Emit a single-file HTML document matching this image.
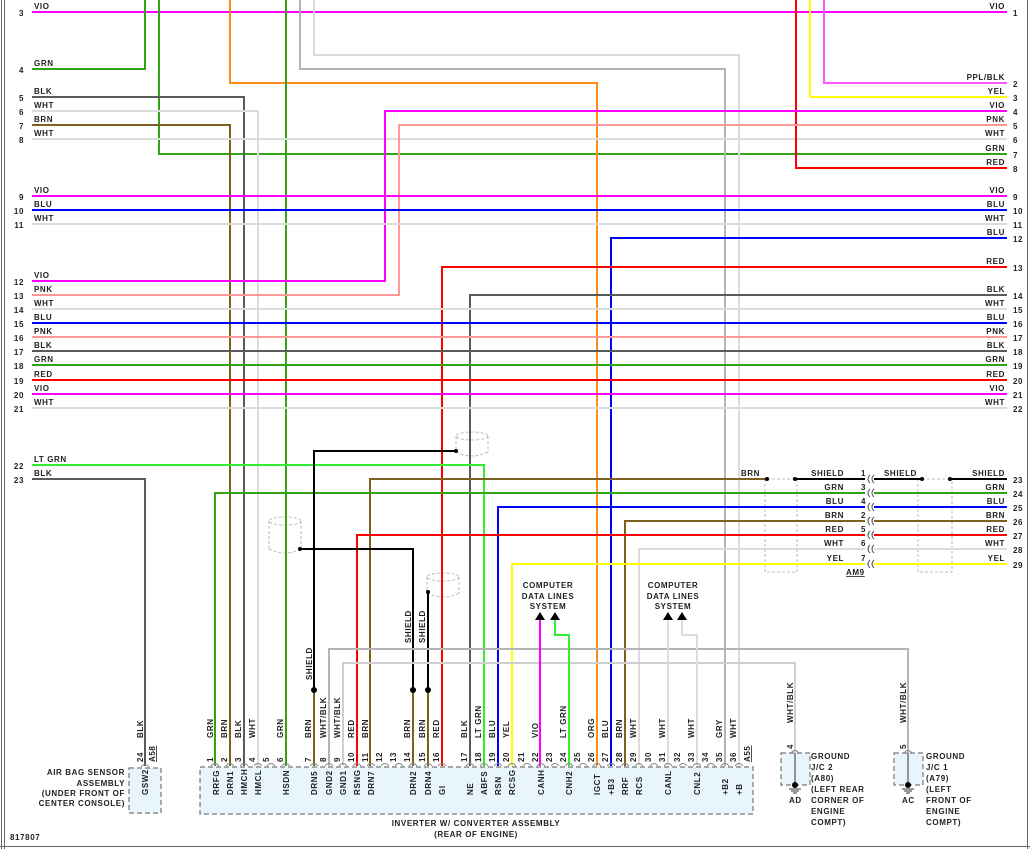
<!DOCTYPE html>
<html><head><meta charset="utf-8"><style>
html,body{margin:0;padding:0;background:#fff;}
svg{display:block;}
text{font-family:"Liberation Sans",sans-serif;font-size:8px;font-weight:bold;fill:#222;letter-spacing:0.6px;}
.w{fill:none;stroke-width:2;}
</style></head><body>
<svg width="1030" height="849" viewBox="0 0 1030 849" xmlns="http://www.w3.org/2000/svg">
<rect width="1030" height="849" fill="#fff"/>
<path d="M1.5 0V849M4.5 0V849M1027.5 0V849M0 846.5H1030" stroke="#666" stroke-width="1" fill="none"/>

<g fill="none" stroke="#bbb" stroke-width="1" stroke-dasharray="3,2">
<ellipse cx="472" cy="436" rx="16" ry="4"/><path d="M456 436V452M488 436V452M456 452Q472 460 488 452"/>
<ellipse cx="285" cy="521" rx="16" ry="4"/><path d="M269 521V549M301 521V549M269 549Q285 557 301 549"/>
<ellipse cx="443" cy="577" rx="16" ry="4"/><path d="M427 577V593M459 577V593M427 593Q443 601 459 593"/>
<path d="M765 479V572H797V479M918 479V572H952V479"/>
<path d="M767 479H795M922 479H950"/>
</g>

<g class="w">
<path stroke="#ff00ff" d="M32 12H1007"/>
<path stroke="#33a314" d="M32 69H145V0"/>
<path stroke="#33a314" d="M159 0V154H1007"/>
<path stroke="#ff8c1a" d="M230 0V83H597V766"/>
<path stroke="#b4b4b4" d="M300 0V69H725V766"/>
<path stroke="#dcdcdc" d="M314 0V55H739V766"/>
<path stroke="#33a314" d="M286 0V766"/>
<path stroke="#5a5a5a" d="M32 97H244V766"/>
<path stroke="#dcdcdc" d="M32 111H258V766"/>
<path stroke="#806020" d="M32 125H230V766"/>
<path stroke="#dcdcdc" d="M32 139H1007"/>
<path stroke="#ff0000" d="M796 0V168H1007"/>
<path stroke="#ffff00" d="M810 0V97H1007"/>
<path stroke="#ff55ff" d="M824 0V83H1007"/>
<path stroke="#ff00ff" d="M1007 111H385V281H32"/>
<path stroke="#ff9999" d="M1007 125H399V295H32"/>
<path stroke="#ff00ff" d="M32 196H1007"/>
<path stroke="#0000ff" d="M32 210H1007"/>
<path stroke="#dcdcdc" d="M32 224H1007"/>
<path stroke="#0000ff" d="M1007 238H611V766"/>
<path stroke="#ff0000" d="M1007 267H442V766"/>
<path stroke="#5a5a5a" d="M1007 295H470V766"/>
<path stroke="#dcdcdc" d="M32 309H1007"/>
<path stroke="#0000ff" d="M32 323H1007"/>
<path stroke="#ff9999" d="M32 337H1007"/>
<path stroke="#5a5a5a" d="M32 351H1007"/>
<path stroke="#33a314" d="M32 365H1007"/>
<path stroke="#ff0000" d="M32 380H1007"/>
<path stroke="#ff00ff" d="M32 394H1007"/>
<path stroke="#dcdcdc" d="M32 408H1007"/>
<path stroke="#33ee33" d="M32 465H484V766"/>
<path stroke="#5a5a5a" d="M32 479H145V766"/>
<path stroke="#806020" d="M767 479H370V766"/>
<path stroke="#33a314" d="M1007 493H215V766"/>
<path stroke="#0000ff" d="M1007 507H498V766"/>
<path stroke="#806020" d="M1007 521H625V766"/>
<path stroke="#ff0000" d="M1007 535H357V766"/>
<path stroke="#dcdcdc" d="M1007 549H639V766"/>
<path stroke="#ffff00" d="M1007 564H512V766"/>
<path stroke="#000" d="M314 690V451H456M300 549H413V690M428 592V690M795 479H866M872 479H922M950 479H1007"/>
<path stroke="#806020" d="M314 690V766M413 690V766M428 690V766"/>
<path stroke="#b4b4b4" d="M329 766V649H908V753"/>
<path stroke="#cfcfcf" d="M343 766V663H795V753"/>
<path stroke="#ff00ff" d="M540 766V620"/>
<path stroke="#33ee33" d="M569 766V635H555V620"/>
<path stroke="#dcdcdc" d="M668 766V620"/>
<path stroke="#dcdcdc" d="M697 766V635H682V620"/>
</g>
<g fill="#000">
<circle cx="314" cy="690" r="3"/><circle cx="413" cy="690" r="3"/><circle cx="428" cy="690" r="3"/>
<circle cx="456" cy="451" r="2"/><circle cx="300" cy="549" r="2"/><circle cx="428" cy="592" r="2"/>
<circle cx="767" cy="479" r="2"/><circle cx="795" cy="479" r="2"/><circle cx="922" cy="479" r="2"/><circle cx="950" cy="479" r="2"/>
<path d="M535 620L540 612L545 620ZM550 620L555 612L560 620ZM663 620L668 612L673 620ZM677 620L682 612L687 620Z"/>
</g>

<g fill="#fff" stroke="none">
<rect x="865" y="475" width="9" height="93"/>
</g>
<g fill="none" stroke="#555" stroke-width="1">
<path d="M870 475q-4 4 0 8M874 475q-4 4 0 8M870 489q-4 4 0 8M874 489q-4 4 0 8M870 503q-4 4 0 8M874 503q-4 4 0 8M870 517q-4 4 0 8M874 517q-4 4 0 8M870 531q-4 4 0 8M874 531q-4 4 0 8M870 545q-4 4 0 8M874 545q-4 4 0 8M870 560q-4 4 0 8M874 560q-4 4 0 8"/>
</g>

<g>
<text x="34" y="9">VIO</text>
<text x="34" y="66">GRN</text>
<text x="34" y="94">BLK</text>
<text x="34" y="108">WHT</text>
<text x="34" y="122">BRN</text>
<text x="34" y="136">WHT</text>
<text x="34" y="193">VIO</text>
<text x="34" y="207">BLU</text>
<text x="34" y="221">WHT</text>
<text x="34" y="278">VIO</text>
<text x="34" y="292">PNK</text>
<text x="34" y="306">WHT</text>
<text x="34" y="320">BLU</text>
<text x="34" y="334">PNK</text>
<text x="34" y="348">BLK</text>
<text x="34" y="362">GRN</text>
<text x="34" y="377">RED</text>
<text x="34" y="391">VIO</text>
<text x="34" y="405">WHT</text>
<text x="34" y="462">LT GRN</text>
<text x="34" y="476">BLK</text>
</g>
<g text-anchor="end">
<text x="24" y="16">3</text><text x="24" y="73">4</text><text x="24" y="101">5</text><text x="24" y="115">6</text><text x="24" y="129">7</text><text x="24" y="143">8</text>
<text x="24" y="200">9</text><text x="24" y="214">10</text><text x="24" y="228">11</text><text x="24" y="285">12</text><text x="24" y="299">13</text><text x="24" y="313">14</text>
<text x="24" y="327">15</text><text x="24" y="341">16</text><text x="24" y="355">17</text><text x="24" y="369">18</text><text x="24" y="384">19</text><text x="24" y="398">20</text>
<text x="24" y="412">21</text><text x="24" y="469">22</text><text x="24" y="483">23</text>
</g>
<g text-anchor="end">
<text x="1005" y="9">VIO</text>
<text x="1005" y="80">PPL/BLK</text>
<text x="1005" y="94">YEL</text>
<text x="1005" y="108">VIO</text>
<text x="1005" y="122">PNK</text>
<text x="1005" y="136">WHT</text>
<text x="1005" y="151">GRN</text>
<text x="1005" y="165">RED</text>
<text x="1005" y="193">VIO</text>
<text x="1005" y="207">BLU</text>
<text x="1005" y="221">WHT</text>
<text x="1005" y="235">BLU</text>
<text x="1005" y="264">RED</text>
<text x="1005" y="292">BLK</text>
<text x="1005" y="306">WHT</text>
<text x="1005" y="320">BLU</text>
<text x="1005" y="334">PNK</text>
<text x="1005" y="348">BLK</text>
<text x="1005" y="362">GRN</text>
<text x="1005" y="377">RED</text>
<text x="1005" y="391">VIO</text>
<text x="1005" y="405">WHT</text>
<text x="1005" y="476">SHIELD</text>
<text x="1005" y="490">GRN</text>
<text x="1005" y="504">BLU</text>
<text x="1005" y="518">BRN</text>
<text x="1005" y="532">RED</text>
<text x="1005" y="546">WHT</text>
<text x="1005" y="561">YEL</text>
<text x="844" y="476">SHIELD</text>
<text x="844" y="490">GRN</text>
<text x="844" y="504">BLU</text>
<text x="844" y="518">BRN</text>
<text x="844" y="532">RED</text>
<text x="844" y="546">WHT</text>
<text x="844" y="561">YEL</text>
<text x="760" y="476">BRN</text>
<text x="866" y="476">1</text><text x="866" y="490">3</text><text x="866" y="504">4</text><text x="866" y="518">2</text><text x="866" y="532">5</text><text x="866" y="546">6</text><text x="866" y="561">7</text>
</g>
<text x="884" y="476">SHIELD</text>
<text x="846" y="575" style="text-decoration:underline">AM9</text>
<g>
<text x="1013" y="16">1</text><text x="1013" y="87">2</text><text x="1013" y="101">3</text><text x="1013" y="115">4</text><text x="1013" y="129">5</text><text x="1013" y="143">6</text>
<text x="1013" y="158">7</text><text x="1013" y="172">8</text><text x="1013" y="200">9</text><text x="1013" y="214">10</text><text x="1013" y="228">11</text><text x="1013" y="242">12</text>
<text x="1013" y="271">13</text><text x="1013" y="299">14</text><text x="1013" y="313">15</text><text x="1013" y="327">16</text><text x="1013" y="341">17</text><text x="1013" y="355">18</text>
<text x="1013" y="369">19</text><text x="1013" y="384">20</text><text x="1013" y="398">21</text><text x="1013" y="412">22</text>
<text x="1013" y="483">23</text><text x="1013" y="497">24</text><text x="1013" y="511">25</text><text x="1013" y="525">26</text><text x="1013" y="539">27</text><text x="1013" y="553">28</text><text x="1013" y="568">29</text>
</g>

<g text-anchor="middle" style="font-weight:normal">
<text x="548" y="588">COMPUTER</text><text x="548" y="599">DATA LINES</text><text x="548" y="609">SYSTEM</text>
<text x="673" y="588">COMPUTER</text><text x="673" y="599">DATA LINES</text><text x="673" y="609">SYSTEM</text>
</g>
<g style="font-weight:normal">
<text transform="translate(312,680) rotate(-90)">SHIELD</text>
<text transform="translate(411,643) rotate(-90)">SHIELD</text>
<text transform="translate(425,643) rotate(-90)">SHIELD</text>
</g>

<g fill="#e8f5fc" stroke="#777" stroke-width="1.2" stroke-dasharray="5,3">
<rect x="200" y="767" width="553" height="47"/>
<rect x="129" y="768" width="32" height="45"/>
<rect x="781" y="753" width="29" height="32"/>
<rect x="894" y="753" width="29" height="32"/>
</g>
<g stroke="#333" stroke-width="1" fill="none">
<path d="M795 753V785M908 753V785M789 789H801M791 791H799M793 793H797M902 789H914M904 791H912M906 793H910"/>
</g>
<circle cx="795" cy="785" r="3"/><circle cx="908" cy="785" r="3"/>
<text x="789" y="803">AD</text><text x="902" y="803">AC</text>
<g>
<text x="811" y="759">GROUND</text><text x="811" y="770">J/C 2</text><text x="811" y="781">(A80)</text><text x="811" y="792">(LEFT REAR</text><text x="811" y="803">CORNER OF</text><text x="811" y="814">ENGINE</text><text x="811" y="825">COMPT)</text>
<text x="926" y="759">GROUND</text><text x="926" y="770">J/C 1</text><text x="926" y="781">(A79)</text><text x="926" y="792">(LEFT</text><text x="926" y="803">FRONT OF</text><text x="926" y="814">ENGINE</text><text x="926" y="825">COMPT)</text>
</g>
<g text-anchor="end">
<text x="125" y="775">AIR BAG SENSOR</text><text x="125" y="786">ASSEMBLY</text><text x="125" y="796">(UNDER FRONT OF</text><text x="125" y="806">CENTER CONSOLE)</text>
</g>
<g text-anchor="middle">
<text x="476" y="826">INVERTER W/ CONVERTER ASSEMBLY</text>
<text x="476" y="837">(REAR OF ENGINE)</text>
</g>
<text x="10" y="840">817807</text>

<g fill="none" stroke="#888" stroke-width="1">
<path d="M141 767q4-5 8 0M791 753q4-5 8 0M904 753q4-5 8 0"/>
<path d="M211 766q4-5 8 0M226 766q4-5 8 0M240 766q4-5 8 0M254 766q4-5 8 0M267 766q4-5 8 0M282 766q4-5 8 0M310 766q4-5 8 0M325 766q4-5 8 0M339 766q4-5 8 0M353 766q4-5 8 0M367 766q4-5 8 0M381 766q4-5 8 0M395 766q4-5 8 0M409 766q4-5 8 0M424 766q4-5 8 0M438 766q4-5 8 0M466 766q4-5 8 0M480 766q4-5 8 0M494 766q4-5 8 0M508 766q4-5 8 0M523 766q4-5 8 0M537 766q4-5 8 0M551 766q4-5 8 0M565 766q4-5 8 0M579 766q4-5 8 0M593 766q4-5 8 0M607 766q4-5 8 0M621 766q4-5 8 0M635 766q4-5 8 0M650 766q4-5 8 0M664 766q4-5 8 0M679 766q4-5 8 0M693 766q4-5 8 0M707 766q4-5 8 0M721 766q4-5 8 0M735 766q4-5 8 0"/>
</g>

<g style="font-weight:normal">
<text transform="translate(143,738) rotate(-90)">BLK</text>
<text transform="translate(143,762) rotate(-90)">24</text>
<text transform="translate(155,762) rotate(-90)" style="text-decoration:underline">A58</text>
<text transform="translate(148,795) rotate(-90)">GSW2</text>
<text transform="translate(793,723) rotate(-90)">WHT/BLK</text>
<text transform="translate(793,749) rotate(-90)">4</text>
<text transform="translate(906,723) rotate(-90)">WHT/BLK</text>
<text transform="translate(906,749) rotate(-90)">5</text>
<text transform="translate(750,762) rotate(-90)" style="text-decoration:underline">A55</text>

<text transform="translate(213,738) rotate(-90)">GRN</text><text transform="translate(213,762) rotate(-90)">1</text><text transform="translate(219,795) rotate(-90)">RRFG</text>
<text transform="translate(227,738) rotate(-90)">BRN</text><text transform="translate(227,762) rotate(-90)">2</text><text transform="translate(233,795) rotate(-90)">DRN1</text>
<text transform="translate(241,738) rotate(-90)">BLK</text><text transform="translate(241,762) rotate(-90)">3</text><text transform="translate(247,795) rotate(-90)">HMCH</text>
<text transform="translate(255,738) rotate(-90)">WHT</text><text transform="translate(255,762) rotate(-90)">4</text><text transform="translate(261,795) rotate(-90)">HMCL</text>
<text transform="translate(269,762) rotate(-90)">5</text>
<text transform="translate(283,738) rotate(-90)">GRN</text><text transform="translate(283,762) rotate(-90)">6</text><text transform="translate(289,795) rotate(-90)">HSDN</text>
<text transform="translate(311,738) rotate(-90)">BRN</text><text transform="translate(311,762) rotate(-90)">7</text><text transform="translate(317,795) rotate(-90)">DRN5</text>
<text transform="translate(326,738) rotate(-90)">WHT/BLK</text><text transform="translate(326,762) rotate(-90)">8</text><text transform="translate(332,795) rotate(-90)">GND2</text>
<text transform="translate(340,738) rotate(-90)">WHT/BLK</text><text transform="translate(340,762) rotate(-90)">9</text><text transform="translate(346,795) rotate(-90)">GND1</text>
<text transform="translate(354,738) rotate(-90)">RED</text><text transform="translate(354,762) rotate(-90)">10</text><text transform="translate(360,795) rotate(-90)">RSNG</text>
<text transform="translate(368,738) rotate(-90)">BRN</text><text transform="translate(368,762) rotate(-90)">11</text><text transform="translate(374,795) rotate(-90)">DRN7</text>
<text transform="translate(382,762) rotate(-90)">12</text>
<text transform="translate(396,762) rotate(-90)">13</text>
<text transform="translate(410,738) rotate(-90)">BRN</text><text transform="translate(410,762) rotate(-90)">14</text><text transform="translate(416,795) rotate(-90)">DRN2</text>
<text transform="translate(425,738) rotate(-90)">BRN</text><text transform="translate(425,762) rotate(-90)">15</text><text transform="translate(431,795) rotate(-90)">DRN4</text>
<text transform="translate(439,738) rotate(-90)">RED</text><text transform="translate(439,762) rotate(-90)">16</text><text transform="translate(445,795) rotate(-90)">GI</text>
<text transform="translate(467,738) rotate(-90)">BLK</text><text transform="translate(467,762) rotate(-90)">17</text><text transform="translate(473,795) rotate(-90)">NE</text>
<text transform="translate(481,738) rotate(-90)">LT GRN</text><text transform="translate(481,762) rotate(-90)">18</text><text transform="translate(487,795) rotate(-90)">ABFS</text>
<text transform="translate(495,738) rotate(-90)">BLU</text><text transform="translate(495,762) rotate(-90)">19</text><text transform="translate(501,795) rotate(-90)">RSN</text>
<text transform="translate(509,738) rotate(-90)">YEL</text><text transform="translate(509,762) rotate(-90)">20</text><text transform="translate(515,795) rotate(-90)">RCSG</text>
<text transform="translate(524,762) rotate(-90)">21</text>
<text transform="translate(538,738) rotate(-90)">VIO</text><text transform="translate(538,762) rotate(-90)">22</text><text transform="translate(544,795) rotate(-90)">CANH</text>
<text transform="translate(552,762) rotate(-90)">23</text>
<text transform="translate(566,738) rotate(-90)">LT GRN</text><text transform="translate(566,762) rotate(-90)">24</text><text transform="translate(572,795) rotate(-90)">CNH2</text>
<text transform="translate(580,762) rotate(-90)">25</text>
<text transform="translate(594,738) rotate(-90)">ORG</text><text transform="translate(594,762) rotate(-90)">26</text><text transform="translate(600,795) rotate(-90)">IGCT</text>
<text transform="translate(608,738) rotate(-90)">BLU</text><text transform="translate(608,762) rotate(-90)">27</text><text transform="translate(614,795) rotate(-90)">+B3</text>
<text transform="translate(622,738) rotate(-90)">BRN</text><text transform="translate(622,762) rotate(-90)">28</text><text transform="translate(628,795) rotate(-90)">RRF</text>
<text transform="translate(636,738) rotate(-90)">WHT</text><text transform="translate(636,762) rotate(-90)">29</text><text transform="translate(642,795) rotate(-90)">RCS</text>
<text transform="translate(651,762) rotate(-90)">30</text>
<text transform="translate(665,738) rotate(-90)">WHT</text><text transform="translate(665,762) rotate(-90)">31</text><text transform="translate(671,795) rotate(-90)">CANL</text>
<text transform="translate(680,762) rotate(-90)">32</text>
<text transform="translate(694,738) rotate(-90)">WHT</text><text transform="translate(694,762) rotate(-90)">33</text><text transform="translate(700,795) rotate(-90)">CNL2</text>
<text transform="translate(708,762) rotate(-90)">34</text>
<text transform="translate(722,738) rotate(-90)">GRY</text><text transform="translate(722,762) rotate(-90)">35</text><text transform="translate(728,795) rotate(-90)">+B2</text>
<text transform="translate(736,738) rotate(-90)">WHT</text><text transform="translate(736,762) rotate(-90)">36</text><text transform="translate(742,795) rotate(-90)">+B</text>
</g>
</svg>
</body></html>
